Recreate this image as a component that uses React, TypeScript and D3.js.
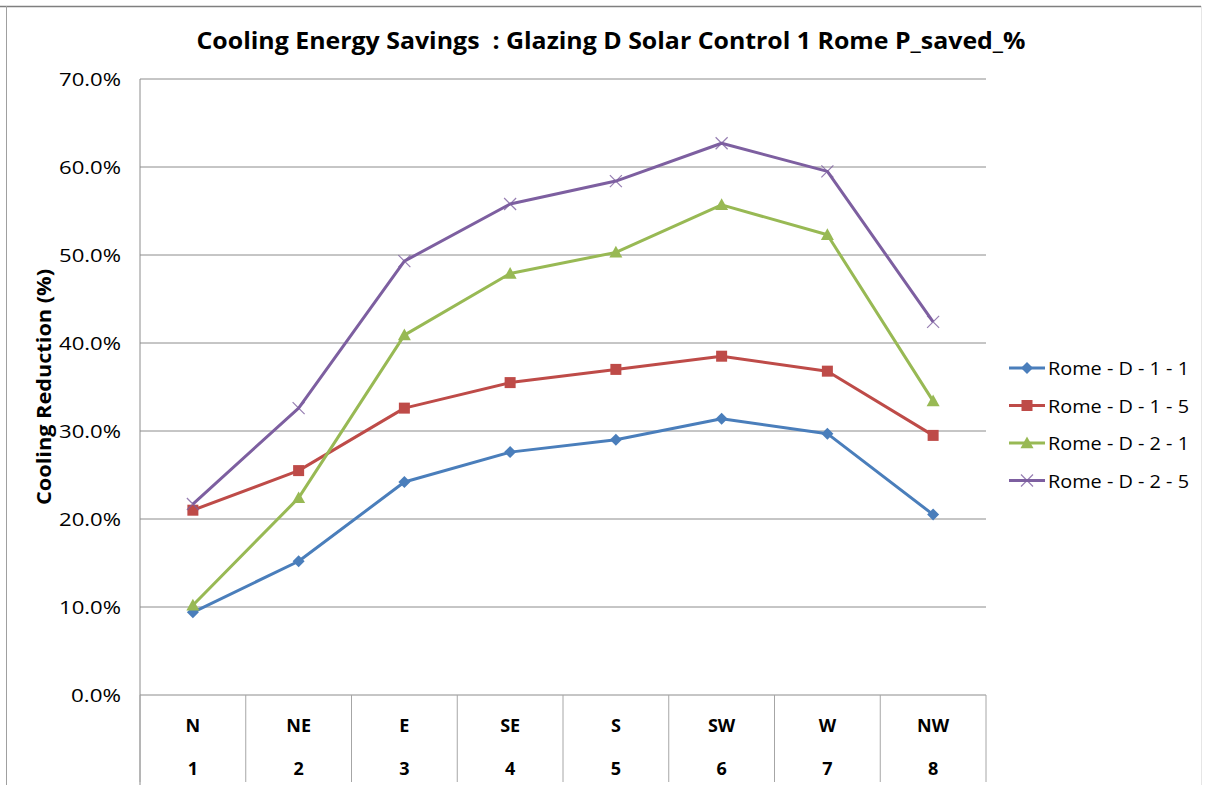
import React from "react";
import * as d3 from "d3";

const categories = ["N", "NE", "E", "SE", "S", "SW", "W", "NW"];
const categoryNumbers = ["1", "2", "3", "4", "5", "6", "7", "8"];
const yTicks = [0, 0.1, 0.2, 0.3, 0.4, 0.5, 0.6, 0.7];

const seriesNames = ["Rome - D - 1 - 1", "Rome - D - 1 - 5", "Rome - D - 2 - 1", "Rome - D - 2 - 5"];
const d11 = [0.094, 0.152, 0.242, 0.276, 0.290, 0.314, 0.297, 0.205];
const d15 = [0.210, 0.255, 0.326, 0.355, 0.370, 0.385, 0.368, 0.295];
const d21 = [0.102, 0.224, 0.409, 0.479, 0.503, 0.557, 0.523, 0.334];
const d25 = [0.217, 0.326, 0.493, 0.558, 0.584, 0.627, 0.595, 0.424];
const seriesValues = [d11, d15, d21, d25];
const colors = ["#4A7EBB", "#BE4B48", "#98B954", "#7D5FA0"];
const markers = ["diamond", "square", "triangle", "x"];

const W = 1205;
const H = 785;
const plotLeft = 140;
const plotRight = 986;
const plotTop = 79;
const plotBottom = 695;
const font = "'Open Sans', 'Noto Sans', sans-serif";

function Marker({ type, x, y, color }: { type: string; x: number; y: number; color: string }) {
  if (type === "diamond") {
    const s = 6;
    return <path d={`M${x},${y - s}L${x + s},${y}L${x},${y + s}L${x - s},${y}Z`} fill={color} />;
  }
  if (type === "square") {
    const s = 5.5;
    return <rect x={x - s} y={y - s} width={2 * s} height={2 * s} fill={color} />;
  }
  if (type === "triangle") {
    const s = 6.5;
    return <path d={`M${x},${y - s}L${x + s},${y + s * 0.8}L${x - s},${y + s * 0.8}Z`} fill={color} />;
  }
  const s = 6;
  return (
    <path
      d={`M${x - s},${y - s}L${x + s},${y + s}M${x - s},${y + s}L${x + s},${y - s}`}
      stroke={color}
      strokeWidth={1.2}
      opacity={0.8}
    />
  );
}

export default function App() {
  const x = d3.scaleBand<string>().domain(categories).range([plotLeft, plotRight]).padding(0);
  const y = d3.scaleLinear().domain([0, 0.7]).range([plotBottom, plotTop]);
  const bw = x.bandwidth();
  const cx = (c: string) => (x(c) as number) + bw / 2;
  const line = d3
    .line<number>()
    .x((_, i) => cx(categories[i]))
    .y((d) => y(d));
  const fmt = d3.format(".1%");
  const boundaries = [...categories.map((c) => x(c) as number), plotRight];

  return (
    <svg width={W} height={H} style={{ position: "absolute", left: 0, top: 0, background: "#fff" }}>
      <rect x={0} y={0} width={W} height={H} fill="#fff" />
      {/* outer frame */}
      <line x1={0} x2={1201} y1={6.5} y2={6.5} stroke="#7f7f7f" strokeWidth={1.5} />
      <line x1={6.5} x2={6.5} y1={6} y2={785} stroke="#a0a0a0" strokeWidth={1} />
      <line x1={1201.5} x2={1201.5} y1={6} y2={785} stroke="#e6e6e6" strokeWidth={1} />

      {/* title */}
      <text x={611} y={49} textAnchor="middle" fontFamily={font} fontWeight="bold" fontSize={23} fill="#000" textLength={829} lengthAdjust="spacingAndGlyphs" style={{ whiteSpace: "pre" }}>
        {"Cooling Energy Savings  : Glazing D Solar Control 1 Rome P_saved_%"}
      </text>

      {/* gridlines */}
      {yTicks.map((t) => (
        <line key={t} x1={plotLeft} x2={plotRight} y1={y(t)} y2={y(t)} stroke="#8c8c8c" strokeWidth={1} />
      ))}
      {/* y axis line */}
      <line x1={plotLeft} x2={plotLeft} y1={plotTop} y2={785} stroke="#8c8c8c" strokeWidth={1} />
      {/* category dividers */}
      {boundaries.map((b, i) => (
        <line key={i} x1={b} x2={b} y1={plotBottom} y2={782} stroke="#a6a6a6" strokeWidth={1} />
      ))}

      {/* y tick labels */}
      {yTicks.map((t) => (
        <text key={t} x={121} y={y(t) + 6.5} textAnchor="end" fontFamily={font} fontSize={18} fill="#000" textLength={t === 0 ? 50 : 62} lengthAdjust="spacingAndGlyphs">
          {fmt(t)}
        </text>
      ))}

      {/* y axis title */}
      <text
        transform={`translate(51,387) rotate(-90)`}
        textAnchor="middle"
        fontFamily={font}
        fontWeight="bold"
        fontSize={20}
        fill="#000"
        textLength={236}
        lengthAdjust="spacingAndGlyphs"
      >
        Cooling Reduction (%)
      </text>

      {/* category labels */}
      {categories.map((c, i) => (
        <g key={c}>
          <text x={cx(c)} y={732} textAnchor="middle" fontFamily={font} fontWeight="bold" fontSize={18} fill="#000">
            {c}
          </text>
          <text x={cx(c)} y={775} textAnchor="middle" fontFamily={font} fontWeight="bold" fontSize={18} fill="#000">
            {categoryNumbers[i]}
          </text>
        </g>
      ))}

      {/* series */}
      {seriesValues.map((vals, si) => (
        <g key={si}>
          <path d={line(vals) || ""} fill="none" stroke={colors[si]} strokeWidth={3} strokeLinejoin="round" />
          {vals.map((v, i) => (
            <Marker key={i} type={markers[si]} x={cx(categories[i])} y={y(v)} color={colors[si]} />
          ))}
        </g>
      ))}

      {/* legend */}
      {seriesNames.map((n, i) => {
        const ly = 368 + i * 37.5;
        return (
          <g key={n}>
            <line x1={1009} x2={1045} y1={ly} y2={ly} stroke={colors[i]} strokeWidth={3} />
            <Marker type={markers[i]} x={1027} y={ly} color={colors[i]} />
            <text x={1048} y={ly + 7} fontFamily={font} fontSize={19} fill="#000" textLength={141} lengthAdjust="spacingAndGlyphs">
              {n}
            </text>
          </g>
        );
      })}
    </svg>
  );
}
